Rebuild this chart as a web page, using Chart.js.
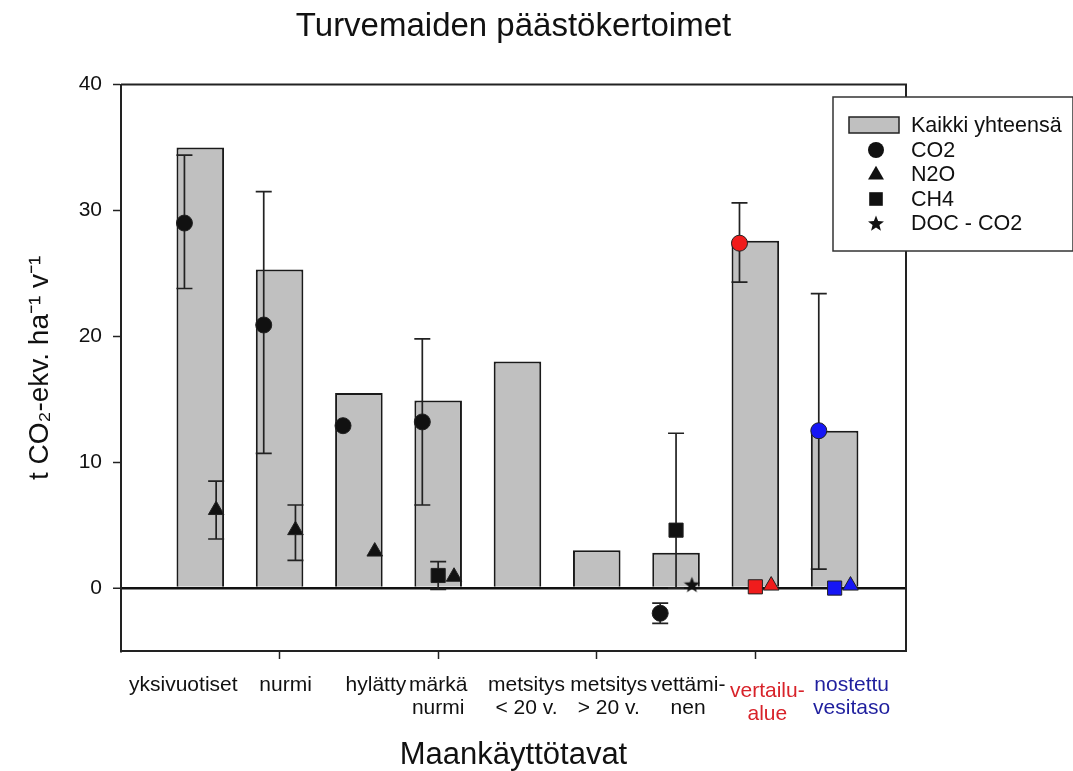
<!DOCTYPE html>
<html>
<head>
<meta charset="utf-8">
<title>Turvemaiden päästökertoimet</title>
<script src="https://cdn.jsdelivr.net/npm/chart.js@4.4.1/dist/chart.umd.min.js"></script>
<style>
  html, body { margin: 0; padding: 0; background: #fff; }
  #wrap { width: 1073px; height: 771px; position: relative; }
</style>
</head>
<body>
<div id="wrap"><canvas id="paastoChart"></canvas></div>
<script>
// Maankäyttötavat (x-akselin luokat), rivinvaihto = \n
var luokat = ['yksivuotiset', 'nurmi', 'hylätty', 'märkä\nnurmi', 'metsitys\n< 20 v.', 'metsitys\n> 20 v.', 'vettämi-\nnen', 'vertailu-\nalue', 'nostettu\nvesitaso'];

// Kaikki yhteensä (pylväät)
var kaikkiYhteensa = [35.0, 25.3, 15.5, 14.9, 18.0, 3.0, 2.8, 27.6, 12.5];

// CO2 + virherajat
var co2 = [29.0, 20.9, 12.9, 13.2, null, null, -2.0, 27.4, 12.5];
var co2Ala = [23.8, 10.7, null, 6.6, null, null, -2.8, 24.3, 1.5];
var co2Yla = [34.4, 31.5, null, 19.8, null, null, -1.2, 30.6, 23.4];

// N2O + virherajat
var n2o = [6.2, 4.6, 2.9, 0.9, null, null, null, 0.2, 0.2];
var n2oAla = [3.9, 2.2, null, null, null, null, null, null, null];
var n2oYla = [8.5, 6.6, null, null, null, null, null, null, null];

// CH4 + virherajat
var ch4 = [null, null, null, 1.0, null, null, 4.6, 0.1, 0.0];
var ch4Ala = [null, null, null, -0.1, null, null, 0.0, null, null];
var ch4Yla = [null, null, null, 2.1, null, null, 12.3, null, null];

// DOC - CO2
var doc = [null, null, null, null, null, null, 0.3, null, null];

var yTicks = [0, 10, 20, 30, 40];
var xTickMerkit = [2, 4, 6, 8];

Chart.defaults.font.family = "'Liberation Sans', Arial, sans-serif";
Chart.defaults.color = '#111';

var musta = '#111111';
var pisteVarit = [musta, musta, musta, musta, musta, musta, musta, '#f01c1c', '#1616f5'];
var luokkaVarit = [musta, musta, musta, musta, musta, musta, musta, '#d8232a', '#1f1f9e'];
// luokkatekstien pieni siirto (px) kuten alkuperäisessä kuvassa
var tekstiSiirtoX = [-17, 6, 17, 0, 9, 12, 12, 12, 17];
var tekstiSiirtoY = [0, 0, 0, 0, 0, 0, 0, 6, 0];

function pisteet(arvot, siirto) {
    return arvot.map(function (v, i) { return { x: i + 1 + siirto, y: v }; });
}

// Täytetty viisisakarainen tähti pisteen kuvaksi
function tahtiKuva(koko, vari) {
    var c = document.createElement('canvas');
    c.width = c.height = koko;
    var g = c.getContext('2d');
    var r = koko / 2, ri = r * 0.42;
    g.beginPath();
    for (var k = 0; k < 10; k++) {
        var rr = k % 2 === 0 ? r : ri;
        var a = -Math.PI / 2 + k * Math.PI / 5;
        g.lineTo(r + rr * Math.cos(a), r + 1 + rr * Math.sin(a));
    }
    g.closePath();
    g.fillStyle = vari;
    g.fill();
    return c;
}

function merkki(ctx, tyyli, x, y, koko) {
    ctx.beginPath();
    if (tyyli === 'circle') {
        ctx.arc(x, y, koko, 0, Math.PI * 2);
    } else if (tyyli === 'triangle') {
        for (var k = 0; k < 3; k++) {
            var a = k * 2 * Math.PI / 3;
            ctx.lineTo(x + Math.sin(a) * koko * 1.15, y + 1 - Math.cos(a) * koko * 1.15);
        }
        ctx.closePath();
    } else if (tyyli === 'rect') {
        ctx.rect(x - koko * 0.85, y - koko * 0.85, koko * 1.7, koko * 1.7);
    } else if (tyyli === 'star') {
        for (var j = 0; j < 10; j++) {
            var rr = j % 2 === 0 ? koko * 1.05 : koko * 0.45;
            var b = -Math.PI / 2 + j * Math.PI / 5;
            ctx.lineTo(x + rr * Math.cos(b), y + 1 + rr * Math.sin(b));
        }
        ctx.closePath();
    }
    ctx.fillStyle = musta;
    ctx.fill();
}

// Siirretään x-akselin luokkatekstejä hieman
var tekstiSiirto = {
    id: 'tekstiSiirto',
    beforeDraw: function (chart) {
        var items = chart.scales.x.getLabelItems();
        items.forEach(function (it, i) {
            if (it._siirretty) return;
            it.options.translation[0] += tekstiSiirtoX[i] || 0;
            it.options.translation[1] += tekstiSiirtoY[i] || 0;
            it._siirretty = true;
        });
    }
};

// Virhepalkit piirretään pylväiden päälle mutta pisteiden alle
var virhePalkit = {
    id: 'virhePalkit',
    afterDatasetDraw: function (chart, args) {
        if (args.index !== 0) return;
        var ctx = chart.ctx, xs = chart.scales.x, ys = chart.scales.y;
        ctx.save();
        ctx.strokeStyle = '#222';
        ctx.lineWidth = 1.7;
        chart.data.datasets.forEach(function (ds) {
            if (!ds.virheAla) return;
            ds.virheAla.forEach(function (lo, i) {
                var hi = ds.virheYla[i];
                if (lo === null || hi === null) return;
                var x = xs.getPixelForValue(i + 1 + ds.siirto);
                var y1 = ys.getPixelForValue(lo), y2 = ys.getPixelForValue(hi);
                ctx.beginPath();
                ctx.moveTo(x, y1); ctx.lineTo(x, y2);
                ctx.moveTo(x - 8, y1); ctx.lineTo(x + 8, y1);
                ctx.moveTo(x - 8, y2); ctx.lineTo(x + 8, y2);
                ctx.stroke();
            });
        });
        ctx.restore();
    }
};

// Kuvaajan kehys (ylä- ja oikea reuna) sekä selite
var kehysJaSelite = {
    id: 'kehysJaSelite',
    afterDraw: function (chart) {
        var ctx = chart.ctx, a = chart.chartArea;
        ctx.save();
        ctx.strokeStyle = '#222';
        ctx.lineWidth = 2;
        ctx.beginPath();
        ctx.moveTo(a.left, a.top); ctx.lineTo(a.right, a.top); ctx.lineTo(a.right, a.bottom);
        ctx.stroke();

        // selite
        var bx = 833, by = 97, bw = 240, bh = 154;
        ctx.fillStyle = '#fff';
        ctx.fillRect(bx, by, bw, bh);
        ctx.lineWidth = 1.5;
        ctx.strokeStyle = '#333';
        ctx.strokeRect(bx, by, bw, bh);
        ctx.font = "21.5px 'Liberation Sans', Arial, sans-serif";
        ctx.textBaseline = 'middle';
        ctx.textAlign = 'left';
        var rivit = [125, 150, 174, 199, 223];
        chart.data.datasets.forEach(function (ds, i) {
            var y = rivit[i];
            if (ds.type === 'bar') {
                ctx.fillStyle = '#c0c0c0';
                ctx.fillRect(849, y - 8, 50, 16);
                ctx.strokeStyle = '#222';
                ctx.strokeRect(849, y - 8, 50, 16);
            } else {
                merkki(ctx, ds.merkki, 876, y, 8);
            }
            ctx.fillStyle = musta;
            ctx.fillText(ds.label, 911, y + 1);
        });
        ctx.restore();
    }
};

var ctxPaasto = document.getElementById('paastoChart').getContext('2d');
var paastoChart = new Chart(ctxPaasto, {
    type: 'bar',
    data: {
        datasets: [{
            type: 'bar',
            label: 'Kaikki yhteensä',
            data: pisteet(kaikkiYhteensa, 0),
            backgroundColor: '#c0c0c0',
            borderColor: '#1a1a1a',
            borderWidth: 2,
            categoryPercentage: 0.6,
            barPercentage: 1,
            order: 10
        }, {
            type: 'scatter',
            label: 'CO2',
            merkki: 'circle',
            data: pisteet(co2, -0.2),
            siirto: -0.2,
            virheAla: co2Ala,
            virheYla: co2Yla,
            pointStyle: 'circle',
            pointRadius: 8,
            pointBackgroundColor: pisteVarit,
            pointBorderColor: '#222',
            pointBorderWidth: 1,
            order: 1
        }, {
            type: 'scatter',
            label: 'N2O',
            merkki: 'triangle',
            data: pisteet(n2o, 0.2),
            siirto: 0.2,
            virheAla: n2oAla,
            virheYla: n2oYla,
            pointStyle: 'triangle',
            pointRadius: 9,
            pointBackgroundColor: pisteVarit,
            pointBorderColor: '#222',
            pointBorderWidth: 1,
            order: 2
        }, {
            type: 'scatter',
            label: 'CH4',
            merkki: 'rect',
            data: pisteet(ch4, 0),
            siirto: 0,
            virheAla: ch4Ala,
            virheYla: ch4Yla,
            pointStyle: 'rect',
            pointRadius: 10,
            pointBackgroundColor: pisteVarit,
            pointBorderColor: '#222',
            pointBorderWidth: 1,
            order: 3
        }, {
            type: 'scatter',
            label: 'DOC - CO2',
            merkki: 'star',
            data: pisteet(doc, 0.2),
            siirto: 0.2,
            pointStyle: tahtiKuva(17, musta),
            pointRadius: 8,
            order: 4
        }]
    },
    options: {
        responsive: true,
        maintainAspectRatio: false,
        animation: false,
        layout: { padding: { left: 0, right: 167, top: 0, bottom: 0 } },
        plugins: {
            legend: { display: false },
            tooltip: { enabled: false },
            title: {
                display: true,
                text: 'Turvemaiden päästökertoimet',
                fullSize: false,
                color: musta,
                font: { size: 33, weight: 'normal' },
                padding: { top: 7, bottom: 38 }
            }
        },
        scales: {
            x: {
                type: 'linear',
                min: 0,
                max: 9.9,
                offset: false,
                afterBuildTicks: function (scale) {
                    scale.ticks = luokat.map(function (_, i) { return { value: i + 1 }; });
                },
                afterFit: function (scale) { scale.height = 120; },
                border: { display: true, color: '#222', width: 2 },
                grid: {
                    offset: false,
                    drawOnChartArea: false,
                    drawTicks: true,
                    tickLength: 8,
                    tickWidth: 1.5,
                    tickColor: function (c) {
                        return c.tick && xTickMerkit.indexOf(c.tick.value) >= 0 ? '#222' : 'rgba(0,0,0,0)';
                    }
                },
                ticks: {
                    autoSkip: false,
                    maxRotation: 0,
                    padding: 15,
                    font: { size: 21, lineHeight: 1.1 },
                    color: function (c) { return luokkaVarit[c.index]; },
                    callback: function (value) {
                        var l = luokat[Math.round(value) - 1];
                        return l ? l.split('\n') : '';
                    }
                },
                title: {
                    display: true,
                    text: 'Maankäyttötavat',
                    color: musta,
                    font: { size: 31, lineHeight: 1 },
                    padding: { top: -2, bottom: 0 }
                }
            },
            y: {
                min: -5,
                max: 40,
                afterBuildTicks: function (scale) {
                    scale.ticks = yTicks.map(function (v) { return { value: v }; });
                },
                afterFit: function (scale) { scale.width = 121; },
                border: { display: true, color: '#222', width: 2 },
                grid: {
                    drawOnChartArea: true,
                    tickLength: 8,
                    tickWidth: 1.5,
                    tickColor: '#222',
                    color: function (c) {
                        return c.tick && c.tick.value === 0 ? '#111' : 'rgba(0,0,0,0)';
                    },
                    lineWidth: function (c) {
                        return c.tick && c.tick.value === 0 ? 2.5 : 1;
                    }
                },
                ticks: {
                    padding: 11,
                    font: { size: 21 },
                    color: musta
                },
                title: {
                    display: true,
                    text: 't CO₂-ekv. ha⁻¹ v⁻¹',
                    color: musta,
                    font: { size: 28, lineHeight: 1 },
                    padding: { top: 26, bottom: 0 }
                }
            }
        }
    },
    plugins: [tekstiSiirto, virhePalkit, kehysJaSelite]
});
</script>
</body>
</html>
